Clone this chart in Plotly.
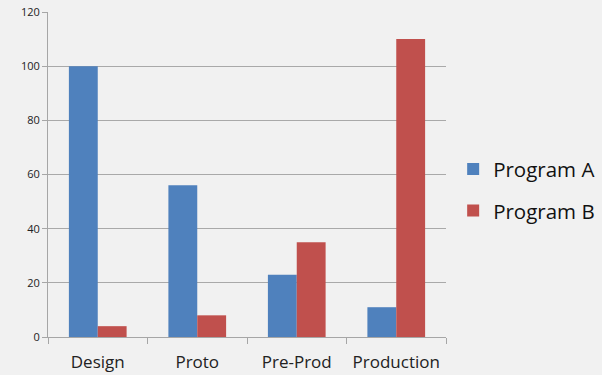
import plotly.graph_objects as go

phases = ["Design", "Proto", "Pre-Prod", "Production"]
program_a = [100, 56, 23, 11]
program_b = [4, 8, 35, 110]
y_ticks = [0, 20, 40, 60, 80, 100, 120]

fig = go.Figure()
fig.add_trace(go.Bar(name="Program A", x=phases, y=program_a, legendgroup="a",
                     marker=dict(color="#4f81bd", line=dict(width=0))))
fig.add_trace(go.Bar(name="Program B", x=phases, y=program_b, legendgroup="b",
                     marker=dict(color="#c0504d", line=dict(width=0))))

fig.update_layout(
    width=602, height=375,
    margin=dict(l=48, r=156, t=12, b=38, autoexpand=False),
    paper_bgcolor="#f1f1f1", plot_bgcolor="#f1f1f1",
    barmode="group", bargap=0.42, bargroupgap=0,
    font=dict(family="Open Sans, Liberation Sans, sans-serif", color="#222222"),
    legend=dict(x=1.018, y=0.452, yanchor="middle", xanchor="left",
                font=dict(size=20.5, color="#111111"), tracegroupgap=12,
                itemwidth=30, bgcolor="rgba(0,0,0,0)"),
    showlegend=True,
)
fig.update_xaxes(
    showline=True, linecolor="#a6a6a6", linewidth=1,
    ticks="outside", tickson="boundaries", ticklen=6, tickcolor="#a6a6a6",
    tickfont=dict(size=17, color="#222222"), showgrid=False,
    ticklabelstandoff=10, automargin=False,
)
fig.update_yaxes(
    range=[0, 120], tickvals=y_ticks,
    showline=True, linecolor="#a6a6a6", linewidth=1,
    ticks="outside", ticklen=5, tickcolor="#a6a6a6",
    tickfont=dict(size=11, color="#222222"),
    showgrid=True, gridcolor="#a9a9a9", gridwidth=1, zeroline=False,
    automargin=False,
)

fig.write_html("out.html")
